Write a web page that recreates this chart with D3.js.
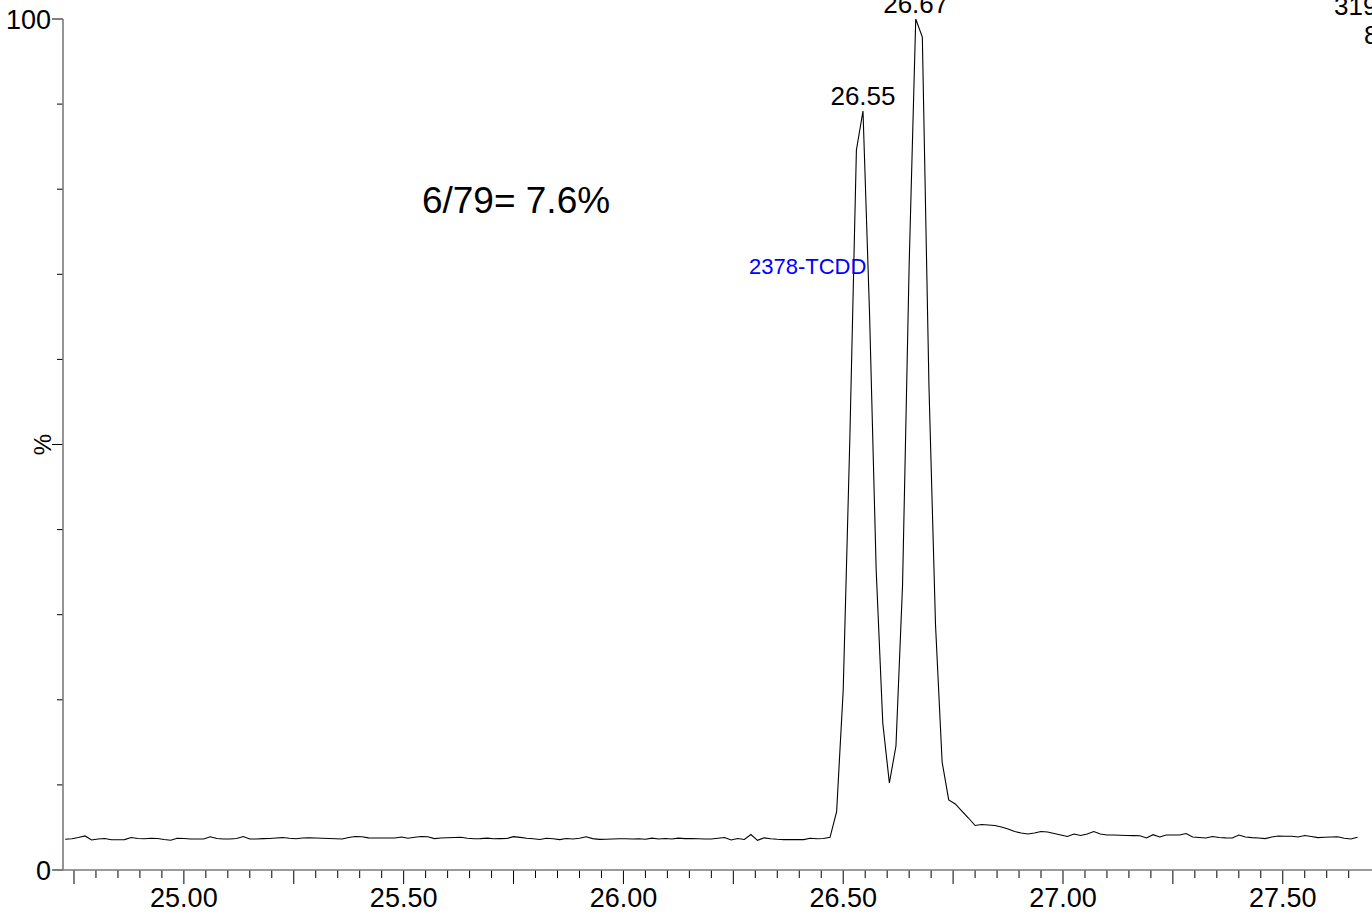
<!DOCTYPE html>
<html><head><meta charset="utf-8">
<script src="https://cdn.jsdelivr.net/npm/d3@7"></script>
<style>html,body{margin:0;padding:0;background:#fff;overflow:hidden}</style>
</head><body>
<svg id="c" width="1372" height="916"></svg>
<script>
// ---- data ----
const scanStart = 24.73;      // retention time of first scan (min)
const scanStep = 0.015;       // scan interval (min)
const intensity = [
3.61,3.67,3.82,4.00,3.53,3.64,3.70,3.55,3.55,3.57,
3.82,3.70,3.67,3.73,3.70,3.58,3.49,3.73,3.70,3.64,
3.64,3.64,3.90,3.70,3.64,3.64,3.70,3.94,3.64,3.65,
3.69,3.70,3.76,3.81,3.73,3.67,3.76,3.79,3.76,3.73,
3.70,3.67,3.64,3.82,3.94,3.90,3.78,3.76,3.76,3.76,
3.76,3.88,3.73,3.84,3.94,3.90,3.69,3.76,3.79,3.82,
3.84,3.73,3.67,3.69,3.74,3.67,3.69,3.71,3.92,3.83,
3.74,3.67,3.58,3.73,3.67,3.57,3.70,3.64,3.74,3.90,
3.69,3.60,3.62,3.64,3.67,3.67,3.65,3.68,3.61,3.74,
3.65,3.71,3.65,3.74,3.69,3.69,3.67,3.64,3.64,3.74,
3.82,3.53,3.70,3.58,4.17,3.49,3.78,3.67,3.61,3.57,
3.57,3.57,3.57,3.73,3.67,3.71,3.84,6.85,21.15,50.53,
84.61,89.19,65.22,35.25,17.27,10.22,14.57,33.49,71.09,100.0,
97.88,56.99,28.79,12.69,8.23,7.76,6.93,6.11,5.23,5.35,
5.29,5.23,5.05,4.82,4.52,4.35,4.23,4.35,4.52,4.47,
4.29,4.11,3.94,4.23,4.05,4.23,4.52,4.23,4.11,4.11,
4.08,4.05,4.04,4.03,3.76,4.15,3.88,4.11,4.11,4.11,
4.29,3.88,3.82,3.76,3.94,3.82,3.78,3.76,4.11,3.88,
3.81,3.76,3.69,3.88,4.00,3.97,3.96,3.88,4.05,3.94,
3.81,3.84,3.88,3.91,3.74,3.64,3.84
];
const xTickLabels = ["25.00","25.50","26.00","26.50","27.00","27.50"];
const xTickValues = [25.0,25.5,26.0,26.5,27.0,27.5];
const yTickLabels = ["0","100"];
const yTickValues = [0,100];
const peakLabels = [{t:26.545, v:89.19, text:"26.55"},{t:26.665, v:100, text:"26.67"}];
const compoundName = "2378-TCDD";
const ratioText = "6/79= 7.6%";

const data = intensity.map((v,i)=>({t: scanStart + i*scanStep, v}));

// ---- layout ----
const svg = d3.select("#c");
const x = d3.scaleLinear().domain([24.725, 27.703]).range([63, 1372]);
const y = d3.scaleLinear().domain([0, 100]).range([870, 19]);
const font = "Arial, 'Liberation Sans', sans-serif";

// trace
svg.append("path").datum(data)
  .attr("d", d3.line().x(d=>x(d.t)).y(d=>y(d.v)))
  .attr("fill","none").attr("stroke","#000").attr("stroke-width",1.1)
  .attr("stroke-linejoin","miter");

// x axis ticks
const minorX = d3.range(24.75, 27.70, 0.05).map(v=>+v.toFixed(2));
const gx = svg.append("g");
gx.selectAll("line.t").data(minorX).join("line")
  .attr("x1",d=>x(d)).attr("x2",d=>x(d)).attr("y1",870)
  .attr("y2",d=> (Math.abs(d*4-Math.round(d*4))<1e-6) ? 884 : 878)
  .attr("stroke","#000").attr("stroke-width",1);
gx.selectAll("text").data(xTickValues).join("text")
  .attr("x",d=>x(d)).attr("y",907).attr("text-anchor","middle")
  .attr("font-family",font).attr("font-size",27)
  .text((d,i)=>xTickLabels[i]);

// y axis ticks
const minorY = d3.range(0, 101, 10);
const gy = svg.append("g");
gy.selectAll("line").data(minorY).join("line")
  .attr("y1",d=>y(d)).attr("y2",d=>y(d)).attr("x2",63)
  .attr("x1",d=> (d%50===0) ? 52 : 57)
  .attr("stroke","#000").attr("stroke-width",1);
gy.selectAll("text").data(yTickValues).join("text")
  .attr("x",51).attr("y",d=>y(d)+10).attr("text-anchor","end")
  .attr("font-family",font).attr("font-size",27)
  .text((d,i)=>yTickLabels[i]);
svg.append("text").attr("transform",`translate(51,${y(50)}) rotate(-90)`)
  .attr("text-anchor","middle").attr("font-family",font).attr("font-size",24)
  .text("%");

// axis lines
svg.append("line").attr("x1",63).attr("x2",63).attr("y1",y(100)).attr("y2",870)
  .attr("stroke","#7a7a7a").attr("stroke-width",1.6);
svg.append("line").attr("x1",63).attr("x2",1372).attr("y1",870).attr("y2",870)
  .attr("stroke","#7a7a7a").attr("stroke-width",1.6);

// annotations
svg.selectAll("text.pk").data(peakLabels).join("text").attr("class","pk")
  .attr("x",d=>x(d.t)).attr("y",d=>y(d.v)-6).attr("text-anchor","middle")
  .attr("font-family",font).attr("font-size",26).text(d=>d.text);
svg.append("text").attr("x",749).attr("y",274).attr("font-family",font)
  .attr("font-size",22).attr("fill","#0000ff").text(compoundName);
svg.append("text").attr("x",516).attr("y",213).attr("text-anchor","middle")
  .attr("font-family",font).attr("font-size",37).text(ratioText);
svg.append("text").attr("x",1334).attr("y",15).attr("font-family",font)
  .attr("font-size",26).text("319");
svg.append("text").attr("x",1364).attr("y",44).attr("font-family",font)
  .attr("font-size",26).text("8");
</script>
</body></html>
